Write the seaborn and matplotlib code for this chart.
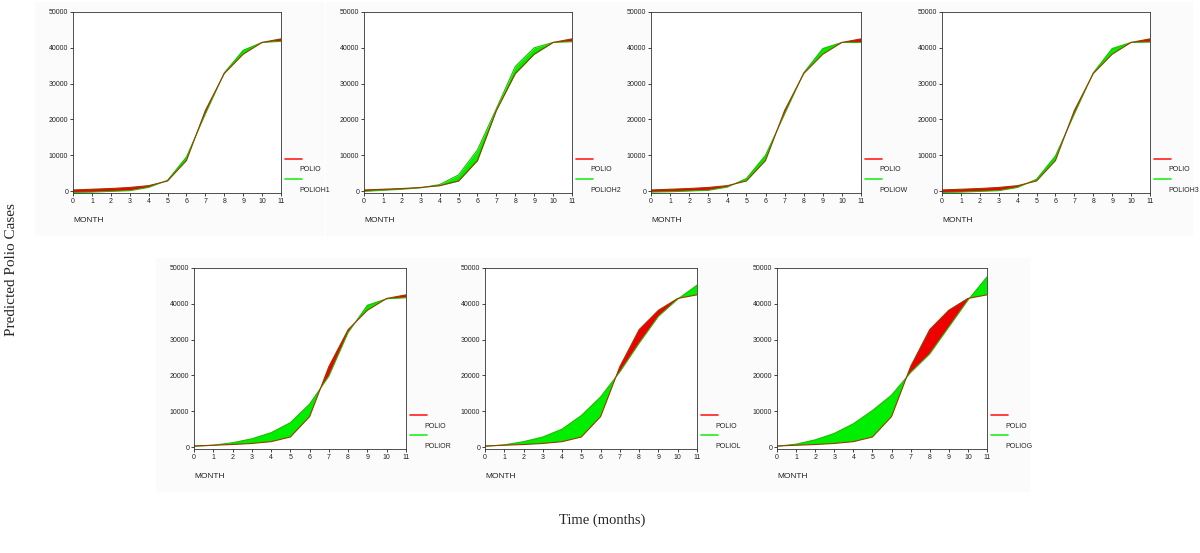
import numpy as np
import matplotlib
matplotlib.use("Agg")
import matplotlib.pyplot as plt
import seaborn as sns
from matplotlib.lines import Line2D
from matplotlib.patches import Rectangle

# data
months = list(range(12))
polio = [300, 500, 700, 1000, 1500, 2800, 8500, 22500, 32800, 38200, 41500, 42500]

polioh1 = [-400, -300, -100, 100, 1000, 3000, 9500, 21500, 33000, 39300, 41500, 41800]
polioh2 = [-100, 200, 500, 900, 1800, 4500, 11500, 23000, 34800, 40000, 41500, 41700]
poliow = [-300, -200, 0, 200, 1100, 3500, 10000, 21500, 33000, 39800, 41500, 41500]
polioh3 = [-400, -300, -100, 100, 1000, 3300, 9800, 21500, 33000, 39800, 41500, 41600]
polior = [200, 500, 1200, 2300, 4000, 6800, 12000, 19800, 32000, 39600, 41400, 41700]
poliol = [200, 600, 1500, 2800, 5000, 8800, 14000, 21000, 29000, 36500, 41300, 45200]
poliog = [200, 800, 2000, 3800, 6500, 10200, 14500, 20800, 26000, 33500, 41000, 47500]

series = [("POLIOH1", polioh1), ("POLIOH2", polioh2), ("POLIOW", poliow), ("POLIOH3", polioh3),
          ("POLIOR", polior), ("POLIOL", poliol), ("POLIOG", poliog)]

# axes boxes in pixels: left, right, top, bottom
W, H = 1200, 553
boxes = [(73, 281, 12, 193), (364, 572, 12, 193), (651, 861, 12, 193), (942, 1150, 12, 193),
         (194, 406, 268, 449), (485, 697, 268, 449), (777, 987, 268, 449)]

sns.set_style("ticks")
plt.rcParams['font.family'] = ['Liberation Sans', 'DejaVu Sans']

fig = plt.figure(figsize=(12, 5.53), dpi=100)

RED = "#ee0000"
GREEN = "#00ee00"

for (name, vals), (l, r, t, b) in zip(series, boxes):
    # faint panel background
    fig.patches.append(Rectangle(((l - 38) / W, 1 - (b + 42) / H), (r - l + 80) / W, (b - t + 52) / H,
                                 transform=fig.transFigure, color="#fbfbfb", zorder=-10))
    ax = fig.add_axes([l / W, 1 - b / H, (r - l) / W, (b - t) / H])
    ax.set_facecolor("white")
    x = np.array(months)
    y1 = np.array(polio)
    y2 = np.array(vals)
    ax.fill_between(x, y1, y2, where=y1 >= y2, interpolate=True, color=RED, lw=0)
    ax.fill_between(x, y1, y2, where=y2 >= y1, interpolate=True, color=GREEN, lw=0)
    sns.lineplot(x=months, y=vals, ax=ax, color="#22bb00", lw=0.8)
    sns.lineplot(x=months, y=polio, ax=ax, color="#9a3a00", lw=0.8)
    ax.set_xlim(0, 11)
    ax.set_ylim(-550, 50000)
    ax.set_xticks(months)
    ax.set_yticks(range(0, 50001, 10000))
    ax.tick_params(labelsize=5, length=2, width=0.6, pad=1.5, colors="#222222")
    for s in ax.spines.values():
        s.set_linewidth(0.6)
        s.set_color("#333333")
    ax.set_xlabel("")
    ax.set_ylabel("")
    fig.text(l / W, 1 - (b + 28) / H, "MONTH", fontsize=6, color="#222222", va="center")

    # hand-made legend to the right of the plot
    fig.add_artist(Line2D([(r + 4) / W, (r + 21) / W], [1 - (b - 34) / H] * 2,
                          color="#ff2020", lw=1.2, transform=fig.transFigure))
    fig.text((r + 18) / W, 1 - (b - 23) / H, "POLIO", fontsize=5, color="#222222", va="center")
    fig.add_artist(Line2D([(r + 4) / W, (r + 21) / W], [1 - (b - 14) / H] * 2,
                          color="#20ee20", lw=1.2, transform=fig.transFigure))
    fig.text((r + 18) / W, 1 - (b - 2) / H, name, fontsize=5, color="#222222", va="center")

fig.text(12 / W, 1 - 270 / H, "Predicted Polio Cases", rotation=90, fontsize=11,
         family="Liberation Serif", va="center", ha="center")
fig.text(602 / W, 1 - 520 / H, "Time (months)", fontsize=10.5,
         family="Liberation Serif", va="center", ha="center")

fig.savefig("out.png", dpi=100, facecolor="white")
